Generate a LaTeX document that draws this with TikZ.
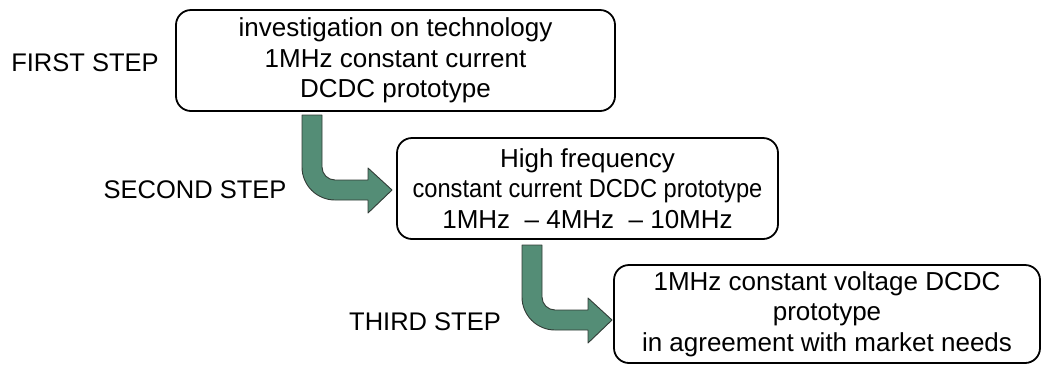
\documentclass[tikz,border=0pt]{standalone}
\usepackage{fontspec}
\setmainfont{Liberation Sans}
\definecolor{arrowgreen}{RGB}{84,141,118}
\definecolor{arrowedge}{RGB}{50,60,55}
\begin{document}
\begin{tikzpicture}[x=1pt,y=-1pt,
  stepbox/.style={draw=black,line width=1.8pt,rounded corners=15pt,align=center,
    font=\fontsize{26}{30.5}\selectfont,inner sep=0pt},
  steplabel/.style={font=\fontsize{25.5}{28}\selectfont,inner sep=0pt},
  bentarrow/.style={fill=arrowgreen,draw=arrowedge,line width=0.9pt,line join=round}
]
\useasboundingbox (0,0) rectangle (1049,368);
\node[stepbox,minimum width=439pt,minimum height=101pt] (b1) at (395.5,60.5)
  {investigation on technology\\1MHz constant current\\DCDC prototype};
\node[stepbox,minimum width=381pt,minimum height=101pt] (b2) at (587.5,188.5)
  {High frequency\\\scalebox{0.91}[1]{constant current DCDC prototype}\\1MHz \ -- 4MHz \ -- 10MHz};
\node[stepbox,minimum width=426pt,minimum height=98pt] (b3) at (827,314)
  {1MHz constant voltage DCDC\\prototype\\in agreement with market needs};
\node[steplabel] (l1) at (85,63) {FIRST STEP};
\node[steplabel] (l2) at (195,190) {SECOND STEP};
\node[steplabel] (l3) at (425,322) {THIRD STEP};
\foreach \sx/\sy in {302/115, 522/245}{
  \begin{scope}[shift={(\sx,\sy)}]
  \path[bentarrow] (0,0) -- (20,0) -- (20,52)
    .. controls (20,59.2) and (25.8,65) .. (33,65)
    -- (66,65) -- (66,53) -- (90,75) -- (66,98) -- (66,85) -- (33,85)
    .. controls (14.8,85) and (0,70.2) .. (0,52) -- cycle;
  \end{scope}
}
\end{tikzpicture}
\end{document}
